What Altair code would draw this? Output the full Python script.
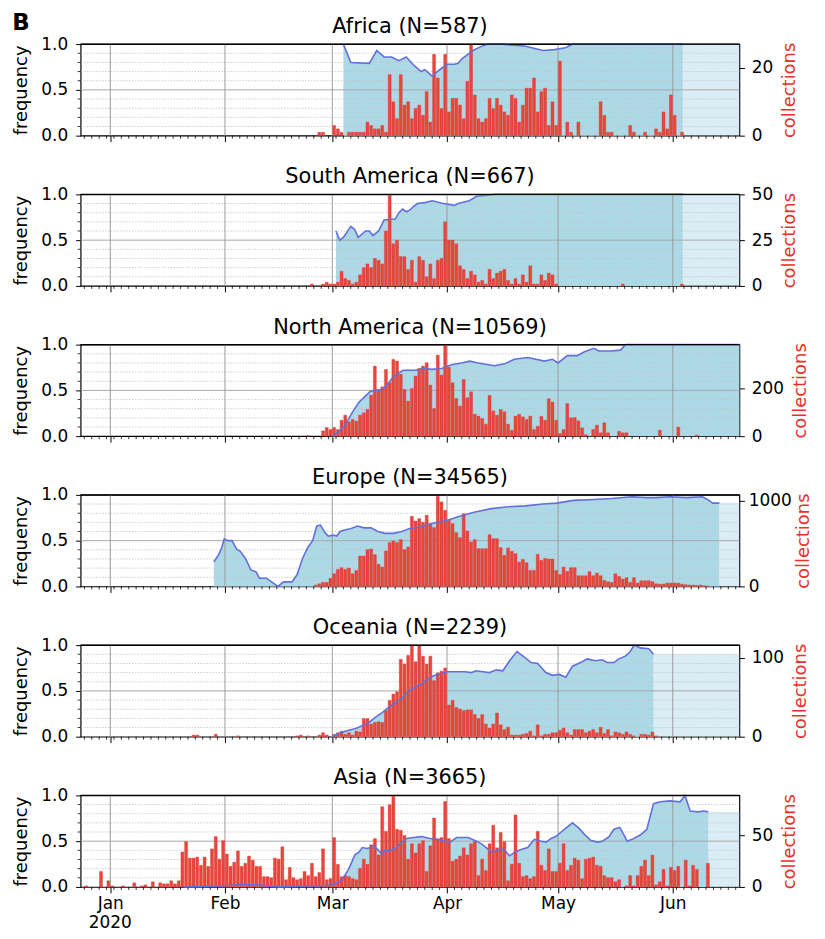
import altair as alt
import pandas as pd

MAR1 = pd.Timestamp("2020-03-01")

def ts(off):
    return (MAR1 + pd.Timedelta(days=float(off))).strftime("%Y-%m-%dT%H:%M:%S")

X_DOMAIN = [alt.DateTime(year=2019, month=12, date=24), alt.DateTime(year=2020, month=6, date=19)]
DOMAIN_END_OFF = 110  # Jun 19 relative to Mar 1
MONTH_OFFS = [-60, -29, 0, 31, 61, 92]  # Jan 1 .. Jun 1
MINOR_OFFS = [d for d in range(-67, 110, 2) if d not in MONTH_OFFS]
YEAR_LABEL = ("2020", -60)

# ---------------- data (day offsets relative to 2020-03-01) ----------------
AFR_BAR_START = -4
AFR_BARS = [1, 1, 0, 0,
            3, 2, 1, 0, 1, 1, 1, 1, 1, 4,
            3, 2, 2, 3, 1, 18, 10, 5, 18, 9,
            10, 5, 8, 9, 6, 13, 4, 24, 17, 8,
            24, 7, 11, 11, 9, 5, 16, 27, 12, 5,
            4, 5, 11, 8, 11, 9, 7, 6, 12, 11,
            4, 9, 14, 14, 17, 7, 13, 14, 3, 10,
            3, 22, 0, 4, 1, 0, 4, 0, 0, 0,
            0, 0, 10, 6, 1, 1, 0, 0, 0, 0,
            3, 1, 0, 0, 1, 0, 0, 2, 1, 7,
            2, 12, 6, 0, 1]
AFR_FDAYS = [3, 5, 10, 12, 14, 16, 18, 20, 22, 24, 25, 27, 29, 31, 33, 34, 35, 37, 38, 40, 42, 46, 48, 52, 55, 57, 60, 63, 65, 94.7]
AFR_FREQ = [1.0, 0.8, 0.79, 0.93, 0.86, 0.86, 0.82, 0.86, 0.77, 0.7, 0.72, 0.65, 0.72, 0.78, 0.78, 0.79, 0.84, 0.9, 0.93, 0.97, 1.0, 1.0, 0.99, 0.98, 0.95, 0.93, 0.94, 0.96, 1.0, 1.0]

SAM_BAR_START = -6
SAM_BARS = [1, 0, 0, 1, 2, 1,
            1, 2, 8, 4, 3, 1, 2, 6, 10, 12,
            10, 15, 14, 12, 30, 50, 23, 25, 16, 16,
            9, 14, 2, 16, 14, 5, 12, 4, 14, 15,
            35, 25, 25, 23, 11, 9, 4, 8, 6, 2,
            3, 1, 9, 4, 7, 8, 9, 3, 1, 4,
            1, 6, 2, 11, 1, 1, 6, 3, 7, 6,
            1, 0, 0, 0, 0, 0, 0, 0, 0, 0,
            0, 0, 0, 0, 0, 0, 0, 0, 1, 0,
            0, 0, 0, 0, 0, 0, 0, 0, 0, 0,
            0, 0, 0, 0, 1]
SAM_FDAYS = [1, 2, 3, 5, 6, 7, 9, 10, 11, 12.5, 14, 17, 18, 19, 20, 21, 22, 23, 25, 27, 30, 33, 34, 37, 39, 42, 44, 94.7]
SAM_FREQ = [0.6, 0.5, 0.53, 0.65, 0.62, 0.53, 0.6, 0.6, 0.55, 0.6, 0.72, 0.73, 0.8, 0.84, 0.81, 0.83, 0.87, 0.9, 0.91, 0.93, 0.9, 0.88, 0.9, 0.93, 0.98, 0.99, 1.0, 1.0]

NAM_BAR_START = -7
NAM_BARS = [2, 0, 0, 0, 22, 36, 28,
            36, 28, 67, 88, 60, 70, 63, 88, 98, 112,
            172, 294, 193, 207, 280, 224, 322, 315, 260, 196,
            147, 200, 252, 284, 294, 308, 214, 116, 340, 256,
            384, 289, 224, 158, 126, 238, 161, 186, 92, 84,
            74, 50, 171, 106, 88, 112, 102, 50, 25, 84,
            92, 81, 70, 84, 28, 42, 83, 67, 157, 143,
            67, 11, 28, 137, 77, 78, 64, 35, 6, 0,
            28, 46, 14, 56, 14, 0, 0, 20, 14, 14,
            0, 0, 0, 0, 0, 0, 0, 0, 25, 0,
            0, 0, 0, 38, 0, 0, 0, 0, 4]
NAM_FDAYS = [0, 1.8, 3.6, 5.4, 7.2, 9, 10.3, 11.6, 13.4, 14.8, 16.1, 17.9, 19.2, 22.4, 25, 26.8, 29.5, 32.2, 34.9, 37.1, 39.4, 43.8, 46.5, 49.2, 52.8, 57.3, 59.5, 61, 63.5, 66.2, 68, 70.7, 72, 75.2, 77.9, 79.2, 110]
NAM_FREQ = [0.0, 0.05, 0.13, 0.26, 0.37, 0.44, 0.49, 0.5, 0.51, 0.56, 0.63, 0.69, 0.72, 0.72, 0.74, 0.73, 0.74, 0.78, 0.8, 0.82, 0.8, 0.77, 0.79, 0.84, 0.86, 0.82, 0.84, 0.8, 0.88, 0.88, 0.92, 0.96, 0.93, 0.93, 0.94, 1.0, 1.0]

EUR_BAR_START = -5
EUR_BARS = [16, 31, 47, 47, 94,
            148, 199, 219, 199, 215, 148, 187, 355, 355, 430,
            437, 371, 258, 226, 414, 512, 531, 512, 547, 430,
            461, 820, 765, 793, 750, 832, 734, 687, 1054, 988,
            890, 773, 734, 629, 570, 851, 648, 519, 547, 441,
            441, 441, 605, 558, 558, 453, 363, 449, 410, 383,
            285, 316, 277, 187, 187, 375, 305, 328, 320, 320,
            187, 141, 226, 176, 219, 219, 125, 125, 125, 172,
            125, 156, 125, 70, 55, 47, 148, 117, 86, 102,
            47, 102, 39, 66, 66, 66, 55, 31, 27, 27,
            39, 39, 39, 39, 27, 20, 16, 16, 12, 16,
            8, 4]
EUR_FDAYS = [-32, -30.8, -29.9, -29.2, -28.3, -27.1, -25.9, -24.8, -23.4, -22, -20.6, -19.7, -17.8, -16.4, -14.7, -13.2, -10.9, -9.5, -8.1, -6.7, -5.3, -4.2, -3.2, -2, -1.1, 0.3, 1.2, 2.1, 3.5, 4.9, 6.8, 8.6, 10.5, 12.3, 14.2, 16.5, 18.8, 20.7, 23.5, 27.2, 30.9, 34.6, 38.3, 42.9, 47.6, 52.2, 56.9, 60.6, 65.2, 70.8, 75.4, 81, 84.7, 87.5, 91.2, 95.8, 100, 101.4, 102.8, 104.6]
EUR_FREQ = [0.27, 0.34, 0.42, 0.52, 0.5, 0.5, 0.41, 0.38, 0.3, 0.18, 0.16, 0.09, 0.09, 0.05, 0.0, 0.05, 0.05, 0.13, 0.3, 0.42, 0.5, 0.66, 0.67, 0.59, 0.55, 0.56, 0.55, 0.6, 0.62, 0.63, 0.66, 0.64, 0.64, 0.6, 0.58, 0.58, 0.6, 0.63, 0.65, 0.69, 0.72, 0.77, 0.81, 0.85, 0.87, 0.88, 0.9, 0.91, 0.94, 0.95, 0.96, 0.98, 0.97, 0.97, 0.98, 0.97, 0.98, 0.95, 0.91, 0.91]

OCE_BAR_START = -38
OCE_BARS = [2, 2, 0, 0, 0, 0, 3, 0, 0, 0,
            0, 0, 1, 0, 0, 0, 0, 0, 0, 0,
            0, 0, 0, 0, 0, 0, 0, 0, 1, 2,
            0, 1, 0, 0, 2, 5, 2, 0,
            3, 5, 7, 3, 5, 2, 7, 6, 23, 23,
            16, 18, 19, 18, 33, 46, 54, 57, 98, 92,
            103, 116, 95, 115, 102, 92, 102, 71, 81, 83,
            87, 40, 46, 37, 35, 33, 34, 34, 28, 23,
            28, 16, 11, 16, 30, 15, 9, 12, 2, 2,
            2, 3, 4, 7, 1, 15, 1, 3, 3, 5,
            5, 8, 11, 5, 2, 9, 9, 9, 5, 7,
            9, 5, 12, 4, 9, 1, 6, 5, 3, 6,
            3, 1, 0, 3, 3, 2, 6, 1]
OCE_FDAYS = [0, 0.9, 2.7, 4.5, 6.3, 8.1, 9.8, 11.6, 13.4, 15.2, 17, 18.8, 20.6, 22.4, 24.2, 26, 27.7, 29.5, 30.9, 33.1, 35.8, 37.6, 38.9, 40.7, 42.5, 44.3, 46.1, 47.9, 49.9, 51.9, 53.7, 55.5, 57.7, 59.5, 61.3, 63.1, 64.9, 67.1, 68.9, 71.1, 72.9, 74.3, 76.1, 77.4, 79.2, 80.5, 81.6, 83.2, 85.5, 86.8]
OCE_FREQ = [0.0, 0.02, 0.05, 0.07, 0.09, 0.12, 0.15, 0.21, 0.26, 0.32, 0.37, 0.42, 0.5, 0.54, 0.58, 0.64, 0.67, 0.69, 0.71, 0.71, 0.71, 0.7, 0.72, 0.71, 0.7, 0.73, 0.72, 0.83, 0.93, 0.87, 0.81, 0.8, 0.7, 0.67, 0.68, 0.65, 0.77, 0.81, 0.85, 0.83, 0.84, 0.81, 0.81, 0.85, 0.88, 0.93, 1.0, 0.97, 0.96, 0.9]

ASI_BAR_START = -67
ASI_BARS = [1, 0, 0, 0, 15, 0, 6, 1, 0, 0,
            1, 0, 0, 4, 0, 1, 2, 0, 5, 0,
            4, 3, 3, 6, 3, 6, 34, 44, 28, 28,
            29, 21, 29, 20, 37, 49, 27, 45, 32, 20,
            24, 35, 20, 23, 30, 26, 20, 20, 10, 10,
            9, 28, 27, 39, 7, 19, 9, 7, 8, 15,
            11, 23, 10, 14, 37, 7, 8,
            48, 22, 10, 11, 10, 8, 7, 18, 27, 22,
            41, 47, 31, 78, 54, 80, 89, 56, 55, 50,
            27, 42, 33, 42, 45, 15, 40, 67, 46, 48,
            83, 47, 25, 27, 30, 38, 31, 42, 44, 11,
            27, 16, 42, 60, 38, 53, 44, 6, 22, 70,
            23, 10, 11, 8, 10, 54, 21, 16, 37, 15,
            15, 23, 42, 16, 21, 28, 26, 8, 27, 28,
            29, 21, 20, 11, 9, 9, 5, 7, 0, 1,
            11, 1, 11, 20, 26, 11, 31, 2, 5, 17,
            1, 19, 16, 20, 0, 26, 1, 21, 17, 0,
            0, 23]
ASI_FDAYS = [-40, -30, -24, -20, -14, -8, -4, 0, 2.7, 4.5, 6.1, 7.2, 8.1, 9.4, 10.3, 11.2, 12.5, 13.4, 14.3, 15.7, 17, 18.3, 20.1, 22, 24.2, 26.4, 28.7, 30.5, 31.8, 33.6, 36.7, 39, 40.3, 41.6, 43, 44.8, 46.1, 47.9, 49.3, 51, 52.8, 54.6, 56.4, 57.8, 59.1, 60.4, 62.7, 64.9, 66.7, 68, 69.8, 71.6, 73, 74.8, 76.1, 77.7, 79.7, 81, 83.3, 85, 86.8, 88.6, 91.3, 94, 95.3, 96.7, 98.9, 100.3, 101.6]
ASI_FREQ = [0.0, 0.01, 0.03, 0.02, 0.0, 0.01, 0.01, 0.02, 0.08, 0.2, 0.35, 0.38, 0.43, 0.42, 0.43, 0.45, 0.4, 0.36, 0.4, 0.4, 0.42, 0.47, 0.53, 0.54, 0.55, 0.53, 0.52, 0.5, 0.49, 0.54, 0.54, 0.5, 0.47, 0.43, 0.38, 0.4, 0.42, 0.34, 0.38, 0.41, 0.43, 0.52, 0.5, 0.49, 0.53, 0.55, 0.63, 0.7, 0.64, 0.58, 0.51, 0.49, 0.5, 0.55, 0.63, 0.65, 0.5, 0.52, 0.57, 0.63, 0.91, 0.93, 0.94, 0.93, 1.0, 0.83, 0.82, 0.83, 0.82]

REGIONS = [
    ("Africa (N=587)", AFR_BAR_START, AFR_BARS, AFR_FDAYS, AFR_FREQ, 27, [0, 20], True),
    ("South America (N=667)", SAM_BAR_START, SAM_BARS, SAM_FDAYS, SAM_FREQ, 50, [0, 25, 50], True),
    ("North America (N=10569)", NAM_BAR_START, NAM_BARS, NAM_FDAYS, NAM_FREQ, 384, [0, 200], False),
    ("Europe (N=34565)", EUR_BAR_START, EUR_BARS, EUR_FDAYS, EUR_FREQ, 1070, [0, 1000], True),
    ("Oceania (N=2239)", OCE_BAR_START, OCE_BARS, OCE_FDAYS, OCE_FREQ, 116, [0, 100], True),
    ("Asia (N=3665)", ASI_BAR_START, ASI_BARS, ASI_FDAYS, ASI_FREQ, 89, [0, 50], True),
]

Y_MINOR = [0.1, 0.2, 0.3, 0.4, 0.6, 0.7, 0.8, 0.9]

W, H = 662, 92
FONT = "DejaVu Sans"
FS = 17
RED = "#e8463d"
LINE = "#6470d8"
FILL = "#add8e6"


def panel(title, bstart, bars, fdays, fvals, cmax, cvals, extend, bottom):
    xs = alt.Scale(domain=X_DOMAIN)
    yf = alt.Scale(domain=[0, 1], nice=False, zero=True)
    bdf = pd.DataFrame([{"start": ts(bstart + i + 0.1), "end": ts(bstart + i + 0.9), "n": v, "z": 0}
                        for i, v in enumerate(bars) if v > 0])
    fdf = pd.DataFrame({"date": [ts(d) for d in fdays], "freq": fvals})
    months = pd.DataFrame({"date": [ts(d) for d in MONTH_OFFS]})
    minors = pd.DataFrame({"date": [ts(d) for d in MINOR_OFFS]})
    yminor = pd.DataFrame({"v": Y_MINOR})
    ymajor = pd.DataFrame({"v": [0.5]})

    xaxis = alt.Axis(values=[alt.DateTime(year=2020, month=m, date=1) for m in range(1, 7)],
                     tickSize=6, tickColor="black", grid=False, domain=False, title=None,
                     labels=bottom, labelFontSize=FS, labelFont=FONT, labelColor="black",
                     labelPadding=3, format="%b")
    yaxis = alt.Axis(values=[0, 0.5, 1], format=".1f", tickSize=5, tickColor="black",
                     grid=False, domain=False, title="frequency", titleFontSize=18,
                     titleFontWeight="normal", titleFont=FONT, labelFont=FONT,
                     labelFontSize=FS, labelColor="black", titleColor="black",
                     titlePadding=10, labelPadding=8, orient="left")
    X = lambda f: alt.X(f, scale=xs, axis=xaxis)
    YL = lambda f: alt.Y(f, scale=yf, axis=yaxis)

    layers = [alt.Chart(fdf).mark_area(color=FILL, opacity=1).encode(x=X("date:T"), y=YL("freq:Q"))]
    if extend:
        edf = pd.DataFrame({"date": [ts(fdays[-1]), ts(DOMAIN_END_OFF)], "freq": [fvals[-1], fvals[-1]]})
        layers.append(alt.Chart(edf).mark_area(color=FILL, opacity=0.45).encode(
            x=X("date:T"), y=YL("freq:Q")))
    layers += [
        alt.Chart(yminor).mark_rule(color="#c4c4c4", strokeDash=[1.5, 1.5], strokeWidth=0.8).encode(
            y=YL("v:Q")),
        alt.Chart(ymajor).mark_rule(color="#a8a8a8", strokeWidth=1).encode(y=YL("v:Q")),
        alt.Chart(months).mark_rule(color="#9a9a9a", strokeWidth=1).encode(x=X("date:T")),
        alt.Chart(yminor).mark_rule(color="black", strokeWidth=0.8).encode(
            y=YL("v:Q"), x=alt.value(-3), x2=alt.value(0)),
        alt.Chart(minors).mark_rule(color="black", strokeWidth=0.8).encode(
            x=X("date:T"), y=alt.value(H), y2=alt.value(H + 3)),
    ]
    if bottom:
        ydf = pd.DataFrame({"date": [ts(YEAR_LABEL[1])], "t": [YEAR_LABEL[0]]})
        layers.append(alt.Chart(ydf).mark_text(fontSize=FS, font=FONT, color="black",
                                               align="center", baseline="top").encode(
            x=X("date:T"), y=alt.value(H + 28), text="t:N"))
    base = alt.layer(*layers)

    ndig = len(str(max(cvals)))
    label_pad = 4 if ndig >= 4 else 7
    title_pad = 3 if ndig >= 4 else 8
    barc = alt.Chart(bdf).mark_bar(color=RED, stroke="#d93a30", strokeWidth=0.4).encode(
        x=X("start:T"), x2="end:T",
        y=alt.Y("n:Q", scale=alt.Scale(domain=[0, cmax], nice=False, zero=True),
                axis=alt.Axis(orient="right", values=cvals, format="d", tickSize=5, tickColor="black",
                              grid=False, domain=False, title="collections", titleColor="#e8312a",
                              titleFontSize=18, titleFontWeight="normal", titleFont=FONT,
                              titleAngle=270, titleBaseline="top",
                              labelFont=FONT, labelFontSize=FS, labelColor="black",
                              titlePadding=title_pad, labelPadding=label_pad)),
        y2="z:Q")

    top = alt.layer(
        alt.Chart(fdf).mark_line(color=LINE, strokeWidth=1.6).encode(
            x=X("date:T"), y=alt.Y("freq:Q", scale=yf, axis=None)),
        alt.Chart(pd.DataFrame({"v": [1.0]})).mark_rule(color="black", strokeWidth=1.3).encode(
            y=alt.Y("v:Q", scale=yf, axis=None)),
    )

    return alt.layer(base, barc, top).resolve_scale(y="independent").properties(
        width=W, height=H,
        title=alt.TitleParams(title, fontSize=21, fontWeight="normal", font=FONT, color="black", offset=-2))


panels = [panel(*r, bottom=(i == len(REGIONS) - 1)) for i, r in enumerate(REGIONS)]

chart = alt.vconcat(*panels, spacing=21).properties(
    title=alt.TitleParams("B", anchor="start", fontSize=23, fontWeight="bold", font=FONT,
                          color="black", offset=-19),
    padding={"left": 4, "top": 1, "right": 4, "bottom": 0}
).configure_view(stroke="black", strokeWidth=1.2)

chart.save("out.html", embed_options={"renderer": "svg", "actions": False})
